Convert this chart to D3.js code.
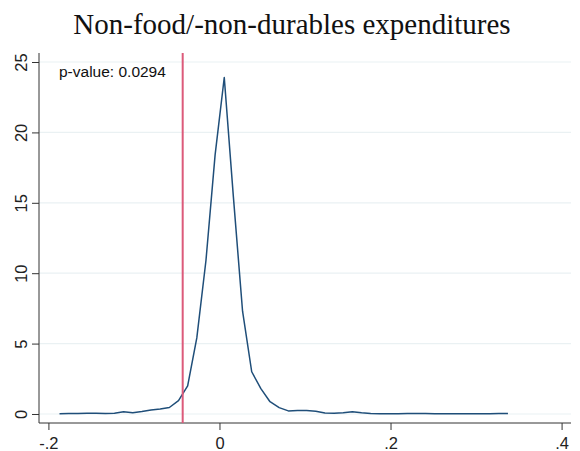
<!DOCTYPE html>
<html>
<head>
<meta charset="utf-8">
<script src="https://cdn.jsdelivr.net/npm/d3@7"></script>
<style>
  html, body { margin: 0; padding: 0; background: #ffffff; }
  svg { display: block; }
</style>
</head>
<body>
<svg id="chart" width="580" height="451"></svg>
<script>
// ---- data ----
const chartTitle = "Non-food/-non-durables expenditures";
const annotation = "p-value: 0.0294";
const gridX = [-0.1870, -0.1763, -0.1656, -0.1549, -0.1442, -0.1335, -0.1228, -0.1121, -0.1014, -0.0907,
               -0.0800, -0.0693, -0.0586, -0.0479, -0.0372, -0.0265, -0.0158, -0.0051, 0.0056, 0.0163,
               0.0270, 0.0377, 0.0484, 0.0591, 0.0698, 0.0805, 0.0912, 0.1019, 0.1126, 0.1233,
               0.1340, 0.1447, 0.1554, 0.1661, 0.1768, 0.1875, 0.1982, 0.2089, 0.2196, 0.2303,
               0.2410, 0.2517, 0.2624, 0.2731, 0.2838, 0.2945, 0.3052, 0.3159, 0.3266, 0.3373];
const density = [0.02, 0.03, 0.04, 0.05, 0.05, 0.04, 0.06, 0.16, 0.09, 0.17,
                 0.28, 0.36, 0.46, 0.95, 2.0, 5.4, 10.9, 18.4, 23.9, 15.4,
                 7.3, 3.0, 1.8, 0.87, 0.45, 0.22, 0.24, 0.25, 0.20, 0.07,
                 0.05, 0.08, 0.16, 0.08, 0.03, 0.02, 0.02, 0.02, 0.03, 0.04,
                 0.03, 0.02, 0.02, 0.02, 0.02, 0.02, 0.02, 0.02, 0.03, 0.04];
const observedValue = -0.043;
const xTicks = [-0.2, 0, 0.2, 0.4];
const xTickLabels = ["-.2", "0", ".2", ".4"];
const yTicks = [0, 5, 10, 15, 20, 25];

// ---- layout ----
const svg = d3.select("#chart");
const plot = { left: 39, right: 571, top: 53, bottom: 423 };
const x = d3.scaleLinear().domain([-0.211, 0.411]).range([plot.left, plot.right]);
const y = d3.scaleLinear().domain([-0.64, 25.64]).range([plot.bottom, plot.top]);

const lineColor = "#1f4e79";
const redColor = "#dc5a7a";
const gridColor = "#eaf1f3";
const axisColor = "#333333";
const sans = "'Liberation Sans', Arial, sans-serif";

// gridlines
svg.append("g").selectAll("line").data(yTicks).join("line")
  .attr("x1", plot.left).attr("x2", plot.right)
  .attr("y1", d => y(d)).attr("y2", d => y(d))
  .attr("stroke", gridColor).attr("stroke-width", 1.2);

// title
svg.append("text")
  .attr("x", 292).attr("y", 34)
  .attr("text-anchor", "middle")
  .attr("font-family", "'Liberation Serif', 'Times New Roman', serif")
  .attr("font-size", 29)
  .attr("fill", "#111")
  .text(chartTitle);

// y axis
const yAxis = svg.append("g")
  .attr("transform", `translate(${plot.left},0)`)
  .call(d3.axisLeft(y).tickValues(yTicks).tickSize(7).tickSizeOuter(0).tickFormat(d3.format("d")));
yAxis.select(".domain").remove();
yAxis.selectAll(".tick line").attr("stroke", axisColor);
yAxis.selectAll(".tick text")
  .attr("transform", "rotate(-90)")
  .attr("x", 0).attr("y", -12).attr("dy", 0)
  .attr("text-anchor", "middle")
  .attr("font-family", sans).attr("font-size", 16.5).attr("fill", "#222");
svg.append("line")
  .attr("x1", plot.left).attr("x2", plot.left)
  .attr("y1", plot.top).attr("y2", plot.bottom)
  .attr("stroke", axisColor).attr("stroke-width", 1);

// x axis
const xAxis = svg.append("g")
  .attr("transform", `translate(0,${plot.bottom})`)
  .call(d3.axisBottom(x).tickValues(xTicks).tickSize(7).tickSizeOuter(0)
        .tickFormat((d, i) => xTickLabels[i]));
xAxis.select(".domain").remove();
xAxis.selectAll(".tick line").attr("stroke", axisColor);
xAxis.selectAll(".tick text")
  .attr("y", 26).attr("dy", 0)
  .attr("font-family", sans).attr("font-size", 16.5).attr("fill", "#222");
svg.append("line")
  .attr("x1", plot.left).attr("x2", plot.right)
  .attr("y1", plot.bottom).attr("y2", plot.bottom)
  .attr("stroke", axisColor).attr("stroke-width", 1);

// density curve
const pts = gridX.map((v, i) => [v, density[i]]);
svg.append("path")
  .datum(pts)
  .attr("fill", "none")
  .attr("stroke", lineColor)
  .attr("stroke-width", 1.5)
  .attr("stroke-linejoin", "round")
  .attr("d", d3.line().x(d => x(d[0])).y(d => y(d[1])));

// observed value line
svg.append("line")
  .attr("x1", x(observedValue)).attr("x2", x(observedValue))
  .attr("y1", plot.top).attr("y2", plot.bottom)
  .attr("stroke", redColor).attr("stroke-width", 2);

// annotation
svg.append("text")
  .attr("x", 59).attr("y", 77)
  .attr("font-family", sans).attr("font-size", 15.5)
  .attr("fill", "#111")
  .text(annotation);
</script>
</body>
</html>
